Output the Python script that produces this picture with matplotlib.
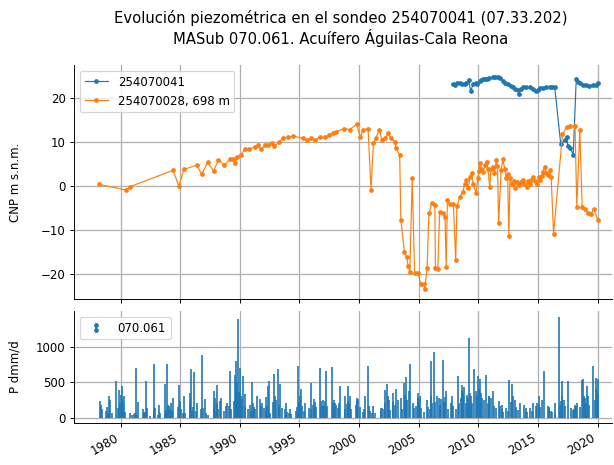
import matplotlib
matplotlib.use('Agg')
import matplotlib.pyplot as plt
from matplotlib.lines import Line2D
from matplotlib.legend_handler import HandlerBase
from matplotlib.ticker import MultipleLocator, FormatStrFormatter

# sondeo 254070041 (fecha en anyo decimal, cota m s.n.m.)
fecha_41 = [2007.9, 2008.0, 2008.2, 2008.45, 2008.6, 2008.9, 2009.0, 2009.2, 2009.35, 2009.55,
            2009.8, 2009.9, 2010.1, 2010.25, 2010.4, 2010.55, 2010.7, 2010.9, 2011.2, 2011.4,
            2011.65, 2011.85, 2012.05, 2012.25, 2012.5, 2012.7, 2012.9, 2013.1, 2013.3, 2013.4,
            2013.55, 2013.75, 2014.0, 2014.3, 2014.55, 2014.8, 2015.0, 2015.15, 2015.4, 2015.7,
            2016.0, 2016.2, 2016.4, 2016.9, 2017.25, 2017.4, 2017.5, 2017.7, 2017.95, 2018.2,
            2018.35, 2018.5, 2018.8, 2019.05, 2019.3, 2019.6, 2019.85, 2020.05]
cota_41 = [23.2, 23.0, 23.4, 23.5, 23.3, 23.2, 23.6, 24.1, 21.6, 23.2,
           23.6, 23.3, 24.0, 24.1, 24.3, 24.4, 24.5, 24.6, 24.9, 24.9,
           24.9, 24.6, 24.0, 23.6, 23.2, 22.9, 22.5, 22.2, 21.9, 21.1,
           22.2, 22.5, 22.6, 22.5, 22.2, 21.7, 22.0, 22.3, 22.4, 22.5,
           22.5, 22.5, 22.5, 9.7, 10.5, 11.1, 9.1, 8.8, 7.1, 24.3,
           23.8, 23.5, 23.1, 23.0, 22.9, 23.0, 23.0, 23.5]

# sondeo 254070028
fecha_28 = [1978.2, 1980.5, 1980.8, 1984.4, 1984.9, 1985.3, 1986.4, 1986.8, 1987.3, 1987.8,
            1988.2, 1988.7, 1989.2, 1989.4, 1989.6, 1989.8, 1990.1, 1990.4, 1990.8, 1991.3,
            1991.5, 1991.8, 1992.1, 1992.4, 1992.7, 1992.9, 1993.3, 1993.6, 1994.0, 1994.5,
            1995.3, 1995.6, 1996.0, 1996.3, 1996.7, 1997.1, 1997.5, 1997.8, 1998.1, 1998.7,
            1999.2, 1999.8, 2000.1, 2000.3, 2000.75, 2001.0, 2001.2, 2001.4, 2001.7, 2001.9,
            2002.2, 2002.4, 2002.7, 2003.0, 2003.1, 2003.4, 2003.5, 2003.8, 2004.0, 2004.1,
            2004.25, 2004.45, 2004.65, 2004.95, 2005.15, 2005.4, 2005.5, 2005.7, 2005.85, 2006.1,
            2006.35, 2006.4, 2006.6, 2006.75, 2007.0, 2007.2, 2007.3, 2007.4, 2007.6, 2007.9,
            2008.1, 2008.2, 2008.45, 2008.7, 2008.85, 2009.0, 2009.15, 2009.3, 2009.45, 2009.55,
            2009.8, 2009.95, 2010.05, 2010.15, 2010.25, 2010.4, 2010.55, 2010.7, 2010.8, 2010.95,
            2011.05, 2011.2, 2011.35, 2011.5, 2011.6, 2011.7, 2011.9, 2012.05, 2012.2, 2012.35,
            2012.45, 2012.55, 2012.65, 2012.8, 2012.95, 2013.05, 2013.2, 2013.4, 2013.55, 2013.7,
            2013.85, 2014.05, 2014.15, 2014.3, 2014.45, 2014.6, 2014.75, 2014.9, 2015.05, 2015.15,
            2015.3, 2015.4, 2015.55, 2015.7, 2015.85, 2016.0, 2016.1, 2016.3, 2017.05, 2017.4,
            2017.65, 2018.1, 2018.25, 2018.5, 2018.7, 2018.9, 2019.2, 2019.4, 2019.7, 2020.0]
cota_28 = [0.4, -0.9, -0.1, 3.6, 0.0, 3.8, 4.8, 2.7, 5.4, 3.5,
           5.9, 4.9, 6.2, 6.3, 5.2, 6.7, 7.1, 8.4, 8.4, 9.0,
           9.3, 8.4, 9.3, 9.3, 9.9, 9.1, 10.1, 11.0, 11.1, 11.4,
           10.9, 10.5, 11.0, 10.5, 11.1, 11.1, 11.6, 12.0, 12.4, 13.1,
           12.9, 14.1, 11.1, 12.8, 13.1, -0.8, 9.9, 10.9, 12.9, 10.5,
           10.9, 12.0, 10.9, 10.1, 8.6, 7.1, -7.6, -15.0, -16.1, -18.2,
           -19.5, 1.75, -19.7, -19.7, -22.3, -22.3, -23.5, -18.7, -6.2, -3.9,
           -4.4, -18.7, -18.9, -5.8, -6.2, -7.0, -18.5, -3.2, -4.1, -4.1,
           -16.9, -4.6, -2.4, -1.3, 0.5, 1.4, -0.5, 2.1, 3.0, 0.6,
           -1.5, 1.75, 3.5, 5.2, 4.0, 3.3, 4.8, 5.5, 3.9, -0.2,
           4.0, 4.4, 3.0, 5.9, 4.6, -8.4, 3.6, 6.1, 4.0, 1.75,
           2.8, -11.4, 1.9, 0.45, 1.2, -0.5, 0.9, 0.2, 1.0, 1.5,
           0.4, -0.2, 1.1, 0.6, 1.5, 2.1, 1.2, 0.6, 2.0, 1.4,
           2.4, 3.3, 4.4, 3.0, 2.5, 3.6, 2.1, -10.8, 11.8, 13.5,
           13.7, 13.7, -4.7, 12.8, -4.7, -5.3, -6.1, -6.3, -5.3, -7.7]

# precipitacion 070.061: picos
pico_fecha = [1978.3, 1979.0, 1979.65, 1979.85, 1980.1, 1980.3, 1981.3, 1981.5, 1982.1, 1982.8,
              1983.2, 1983.7, 1983.9, 1984.2, 1984.4, 1984.9, 1985.3, 1985.8, 1985.9, 1986.2,
              1986.8, 1987.1, 1987.8, 1987.9, 1988.1, 1988.4, 1988.9, 1989.2, 1989.6, 1989.7,
              1989.85, 1990.0, 1990.3, 1990.4, 1991.0, 1991.4, 1991.7, 1992.2, 1992.4, 1992.45,
              1992.9, 1993.2, 1993.4, 1993.9, 1994.2, 1994.9, 1995.1, 1995.5, 1996.0, 1996.2,
              1996.7, 1997.0, 1997.2, 1997.7, 1998.0, 1998.4, 1998.8, 1999.1, 1999.25, 1999.8,
              1999.9, 2000.5, 2000.75, 2001.2, 2001.8, 2002.2, 2002.3, 2002.5, 2002.8, 2003.1,
              2003.5, 2003.8, 2003.9, 2004.3, 2004.5, 2004.9, 2005.1, 2005.7, 2006.0, 2006.3,
              2006.7, 2007.0, 2007.3, 2007.7, 2008.3, 2008.6, 2008.8, 2009.2, 2009.4, 2009.6,
              2010.0, 2010.1, 2010.6, 2010.85, 2011.2, 2011.7, 2012.0, 2012.6, 2012.8, 2013.5,
              2013.95, 2014.6, 2015.1, 2015.5, 2015.9, 2016.4, 2016.75, 2017.0, 2017.5, 2018.1,
              2018.7, 2018.8, 2019.1, 2019.6, 2019.9, 2020.0]
pico_valor = [240, 300, 510, 390, 440, 300, 700, 220, 510, 760,
              180, 470, 760, 200, 280, 460, 310, 350, 680, 640,
              880, 260, 370, 270, 460, 280, 200, 650, 600, 800,
              1390, 700, 590, 330, 500, 310, 260, 290, 450, 520,
              610, 680, 480, 200, 120, 730, 400, 200, 490, 260,
              700, 250, 650, 710, 200, 450, 300, 440, 300, 270,
              260, 300, 730, 170, 140, 390, 470, 250, 350, 410,
              280, 490, 570, 760, 200, 340, 300, 250, 790, 920,
              270, 810, 380, 200, 590, 460, 430, 1120, 300, 680,
              580, 550, 600, 300, 380, 240, 180, 530, 480, 200,
              140, 200, 300, 650, 150, 200, 1420, 510, 510, 180,
              530, 540, 440, 730, 560, 540]

# precipitacion 070.061: lluvias menores
base_fecha = [1978.35, 1978.42, 1978.75, 1978.85, 1978.95, 1979.05, 1979.12, 1979.3, 1979.8, 1979.92,
              1980.0, 1980.15, 1980.2, 1980.35, 1980.8, 1980.95, 1981.1, 1981.2, 1981.4, 1981.85,
              1981.95, 1982.05, 1982.25, 1982.5, 1982.82, 1982.9, 1983.1, 1983.3, 1983.75, 1983.85,
              1983.95, 1984.05, 1984.15, 1984.3, 1984.8, 1984.95, 1985.1, 1985.2, 1985.4, 1985.85,
              1985.95, 1986.1, 1986.3, 1986.4, 1986.75, 1986.9, 1987.15, 1987.3, 1987.85, 1987.95,
              1988.05, 1988.2, 1988.3, 1988.7, 1988.85, 1989.1, 1989.3, 1989.55, 1989.65, 1989.75,
              1989.78, 1989.8, 1989.92, 1990.05, 1990.1, 1990.2, 1990.45, 1990.7, 1990.85, 1990.95,
              1991.1, 1991.2, 1991.3, 1991.8, 1991.9, 1992.05, 1992.2, 1992.3, 1992.55, 1992.8,
              1992.95, 1993.05, 1993.3, 1993.5, 1993.8, 1993.95, 1994.1, 1994.3, 1994.75, 1994.8,
              1994.95, 1995.05, 1995.2, 1995.4, 1995.8, 1995.95, 1996.1, 1996.3, 1996.4, 1996.8,
              1996.9, 1997.05, 1997.15, 1997.3, 1997.8, 1997.9, 1998.05, 1998.2, 1998.3, 1998.8,
              1998.95, 1999.05, 1999.15, 1999.35, 1999.75, 1999.85, 2000.1, 2000.3, 2000.45, 2000.85,
              2000.95, 2001.1, 2001.3, 2001.85, 2001.95, 2002.05, 2002.15, 2002.4, 2002.6, 2002.85,
              2003.05, 2003.25, 2003.6, 2003.85, 2003.95, 2004.05, 2004.2, 2004.6, 2004.8, 2004.95,
              2005.05, 2005.2, 2005.4, 2005.8, 2005.95, 2006.05, 2006.15, 2006.4, 2006.5, 2006.8,
              2006.9, 2007.1, 2007.2, 2007.45, 2007.8, 2007.9, 2008.1, 2008.35, 2008.5, 2008.65,
              2008.75, 2008.95, 2009.05, 2009.15, 2009.3, 2009.5, 2009.8, 2009.9, 2010.05, 2010.2,
              2010.3, 2010.5, 2010.8, 2010.9, 2011.05, 2011.3, 2011.5, 2011.8, 2011.95, 2012.1,
              2012.35, 2012.5, 2012.75, 2012.9, 2013.05, 2013.15, 2013.3, 2013.8, 2013.95, 2014.1,
              2014.3, 2014.5, 2014.8, 2014.95, 2015.05, 2015.2, 2015.35, 2015.8, 2015.95, 2016.05,
              2016.2, 2016.4, 2016.85, 2016.95, 2017.05, 2017.15, 2017.3, 2017.8, 2017.95, 2018.05,
              2018.15, 2018.3, 2018.5, 2018.85, 2018.95, 2019.05, 2019.2, 2019.3, 2019.8, 2019.9,
              2020.0, 2020.05]
base_valor = [180, 120, 90, 150, 60, 90, 250, 60, 140, 200,
              320, 260, 200, 80, 60, 40, 50, 70, 40, 120,
              60, 80, 140, 30, 90, 130, 40, 60, 50, 110,
              180, 170, 120, 90, 150, 230, 120, 60, 70, 200,
              100, 150, 90, 200, 120, 140, 70, 40, 150, 90,
              200, 120, 230, 90, 170, 160, 120, 240, 350, 420,
              500, 300, 360, 330, 300, 260, 150, 120, 180, 100,
              200, 150, 120, 160, 210, 130, 100, 170, 60, 220,
              300, 250, 180, 140, 120, 80, 60, 50, 90, 150,
              220, 300, 160, 100, 140, 120, 180, 220, 150, 240,
              160, 170, 230, 160, 210, 250, 180, 140, 200, 120,
              190, 240, 200, 120, 180, 230, 150, 80, 120, 160,
              90, 60, 70, 90, 130, 120, 200, 300, 110, 220,
              180, 250, 120, 320, 200, 250, 380, 140, 160, 280,
              200, 140, 80, 150, 120, 300, 200, 220, 310, 180,
              260, 220, 290, 120, 300, 160, 120, 200, 280, 380,
              350, 200, 320, 280, 350, 200, 380, 300, 400, 350,
              280, 250, 200, 300, 270, 160, 130, 170, 120, 80,
              140, 100, 220, 300, 250, 150, 110, 180, 100, 80,
              130, 90, 160, 200, 180, 150, 250, 160, 120, 100,
              80, 60, 180, 230, 300, 250, 160, 130, 110, 120,
              170, 200, 150, 300, 280, 200, 300, 180, 250, 400,
              350, 200]


class HandlerPuntos(HandlerBase):
    def create_artists(self, legend, orig_handle, xdescent, ydescent, width, height, fontsize, trans):
        x = width / 2 - xdescent
        linea = Line2D([x, x], [height * 0.25 - ydescent, height * 0.75 - ydescent],
                       color='C0', marker='.', lw=1.5)
        linea.set_transform(trans)
        return [linea]


W, H = 614, 465
DPI = 85
fig = plt.figure(figsize=(W / DPI, H / DPI), dpi=DPI)
ax1 = fig.add_axes([74 / W, 1 - 299 / H, (612 - 74) / W, (299 - 65) / H])
ax2 = fig.add_axes([74 / W, 1 - 423 / H, (612 - 74) / W, (423 - 311) / H], sharex=ax1)

ax1.plot(fecha_41, cota_41, marker='.', lw=1, color='C0', label='254070041')
ax1.plot(fecha_28, cota_28, marker='.', lw=1, color='C1', label='254070028, 698 m')
ax1.legend(loc='upper left')
ax1.set_ylabel('CNP m s.n.m.')
ax1.set_ylim(-25.7, 27.6)
ax1.set_yticks([-20, -10, 0, 10, 20])
ax1.tick_params(labelbottom=False)

ax2.vlines(pico_fecha + base_fecha, 0, pico_valor + base_valor, color='C0', lw=1.4)
dummy = Line2D([], [], color='C0')
ax2.legend([dummy], ['070.061'], loc='upper left', handler_map={Line2D: HandlerPuntos()})
ax2.set_ylabel('P dmm/d')
ax2.set_ylim(-75, 1500)
ax2.set_yticks([0, 500, 1000])

ax2.set_xlim(1976.1, 2021.2)
ax2.xaxis.set_major_locator(MultipleLocator(5))
ax2.xaxis.set_major_formatter(FormatStrFormatter('%d'))
for lab in ax2.get_xticklabels():
    lab.set_rotation(30)
    lab.set_ha('right')

for ax in (ax1, ax2):
    ax.grid(True, color='#b0b0b0', lw=1.1)
    ax.spines['top'].set_visible(False)
    ax.spines['right'].set_visible(False)
    ax.yaxis.set_label_coords(-0.097, 0.5)

fig.text(341 / W, 1 - 10 / H,
         'Evolución piezométrica en el sondeo 254070041 (07.33.202)\n'
         'MASub 070.061. Acuífero Águilas-Cala Reona',
         ha='center', va='top', fontsize=12.5)

fig.savefig('out.png', dpi=DPI)
